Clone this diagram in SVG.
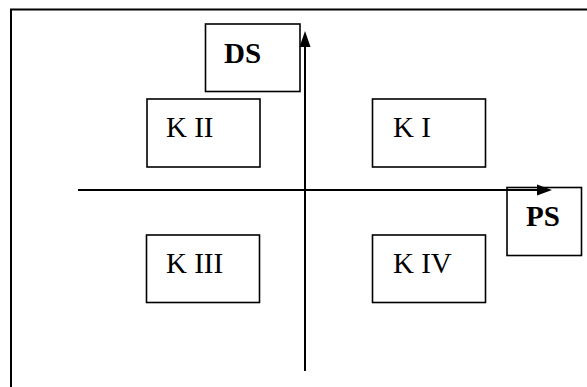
<svg xmlns="http://www.w3.org/2000/svg" width="587" height="387" viewBox="0 0 587 387">
<style>
.box{fill:#fff;stroke:#000;stroke-width:1.6}
.t{font-family:"Liberation Serif","Times New Roman",serif;font-size:29px;fill:#000}
.b{font-weight:bold}
.ax{stroke:#000;stroke-width:2;fill:none}
</style>
<rect x="0" y="0" width="587" height="387" fill="#fff"/>
<g id="frame"><path d="M11,387 V9.5 H587" class="ax" stroke-width="1.8"/></g>
<g id="DS"><rect x="205.5" y="24" width="94.5" height="67.5" class="box"/><text x="224" y="63" class="t b">DS</text></g>
<g id="PS"><rect x="507" y="187.5" width="74.5" height="68" class="box"/><text x="526" y="226" class="t b">PS</text></g>
<g id="K2"><rect x="147" y="99" width="113" height="68" class="box"/><text x="166" y="137" class="t">K II</text></g>
<g id="K1"><rect x="372.5" y="99" width="113" height="68" class="box"/><text x="393" y="137" class="t">K I</text></g>
<g id="K3"><rect x="146.5" y="235" width="113" height="67.5" class="box"/><text x="166" y="273" class="t">K III</text></g>
<g id="K4"><rect x="372.5" y="235" width="113" height="67.5" class="box"/><text x="393" y="273" class="t">K IV</text></g>
<g id="connectors">
<line x1="305" y1="371" x2="305" y2="44" class="ax"/>
<polygon points="305,31 299.5,47 310.5,47" fill="#000"/>
<line x1="78" y1="190" x2="540" y2="190" class="ax"/>
<polygon points="552,190 537,184.5 537,195.5" fill="#000"/>
</g>
</svg>
